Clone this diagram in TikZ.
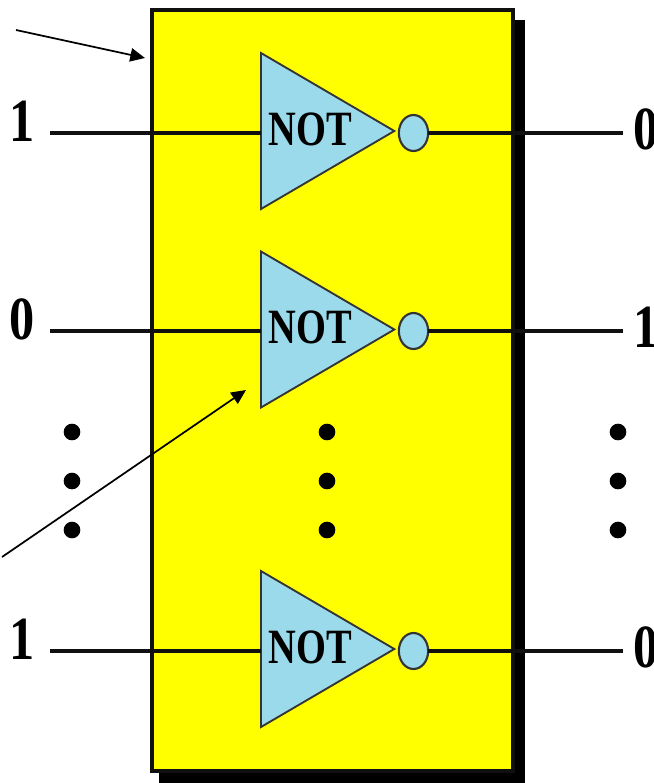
\documentclass[tikz,border=0pt]{standalone}
\usepackage{fontspec}
\setmainfont{Liberation Serif}
\usetikzlibrary{shapes.geometric,arrows.meta}
\definecolor{gateblue}{RGB}{154,218,234}
\definecolor{wireblack}{RGB}{16,16,16}
\definecolor{panelyellow}{RGB}{255,255,0}
\tikzset{
  panel/.style={draw=wireblack,line width=3pt,fill=panelyellow},
  panelshadow/.style={fill=black},
  gate/.style={isosceles triangle,isosceles triangle stretches,shape border rotate=0,anchor=lower side,
    draw=wireblack!85,line width=1.4pt,fill=gateblue,minimum width=117pt,minimum height=100pt,inner sep=0pt,outer sep=0pt},
  bubble/.style={ellipse,draw=wireblack!85,line width=1.6pt,fill=gateblue,minimum width=22pt,minimum height=27pt,inner sep=0pt,outer sep=0pt},
  wire/.style={draw=wireblack,line width=3.1pt},
  gatetext/.style={font=\fontsize{37}{37}\selectfont\bfseries,xscale=.78,inner sep=0pt,text=black},
  bittext/.style={font=\fontsize{46}{46}\selectfont\bfseries,xscale=.82,inner sep=0pt,text=black},
  vdot/.style={circle,fill=black,minimum size=12.5pt,inner sep=0pt},
  pointer/.style={draw=black,line width=1.3pt,-{Triangle[length=11pt,width=10pt]}}
}
\begin{document}
\begin{tikzpicture}[x=.75pt,y=-.75pt]
\useasboundingbox (0,0) rectangle (654,783);
\clip (0,0) rectangle (654,783);
\node[panelshadow,minimum width=274pt,minimum height=573pt,inner sep=0pt,anchor=north west] (shadow) at (159,20) {};
\node[panel,minimum width=270.75pt,minimum height=571pt,inner sep=0pt,outer sep=0pt,anchor=north west] (box) at (152,10) {};
% rows
\foreach \n/\gy/\wy/\bi/\bo/\ty in {a/131/133/1/0/129,b/329.5/331/0/1/327,c/649/651/1/0/647}{
  \coordinate (in\n) at (50,\wy);
  \coordinate (out\n) at (623,\wy);
  \node[gate] (gate\n) at (261,\gy) {};
  \node[gatetext] (label\n) at (310,\ty) {NOT};
  \node[bubble] (bub\n) at (413.5,\wy) {};
  \draw[wire] (in\n) -- (in\n -| gate\n.lower side);
  \draw[wire] (bub\n.east) -- (out\n);
  \node[bittext] (bitin\n) at (22.5,\wy-12) {\bi};
  \node[bittext] (bitout\n) at (646,\wy-4) {\bo};
}
% dots
\foreach \x/\k in {72/l,327/m,618/r}{
  \foreach \y/\j in {432/1,481/2,530/3}{
    \node[vdot] (dot\k\j) at (\x,\y) {};
  }
}
\coordinate (p1s) at (16,30);
\coordinate (p1e) at (145,58);
\coordinate (p2s) at (2,557);
\coordinate (p2e) at (246,390);
\draw[pointer] (p1s) -- (p1e);
\draw[pointer] (p2s) -- (p2e);
\end{tikzpicture}
\end{document}
